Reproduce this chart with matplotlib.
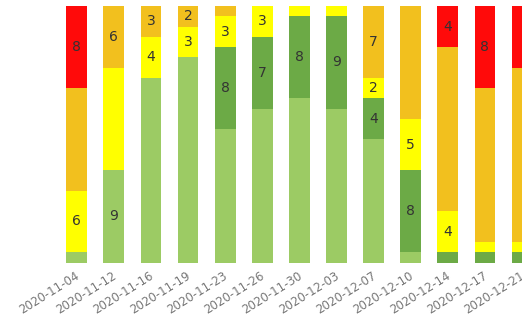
import numpy as np
import matplotlib.pyplot as plt
import matplotlib.transforms as mtransforms

dates = ['2020-11-04', '2020-11-12', '2020-11-16', '2020-11-19', '2020-11-23',
         '2020-11-26', '2020-11-30', '2020-12-03', '2020-12-07', '2020-12-10',
         '2020-12-14', '2020-12-17', '2020-12-21']

# counts per category, stacked bottom to top
light_green = [1, 9, 18, 20, 13, 15, 16, 15, 12, 1, 0, 0, 0]
dark_green = [0, 0, 0, 0, 8, 7, 8, 9, 4, 8, 1, 1, 1]
yellow = [6, 10, 4, 3, 3, 3, 1, 1, 2, 5, 4, 1, 1]
orange = [10, 6, 3, 2, 1, 0, 0, 0, 7, 11, 16, 15, 17]
red = [8, 0, 0, 0, 0, 0, 0, 0, 0, 0, 4, 8, 6]

series = [light_green, dark_green, yellow, orange, red]
colors = ['#9CCB64', '#6CAA46', '#FFFF00', '#F2C01E', '#FF0A0A']

fig = plt.figure(figsize=(5.22, 3.16), dpi=100)
ax = fig.add_axes([0, 1 - 262.5 / 316, 1, (262.5 - 6) / 316])

xmax = (522 - 77.5) / 37.5
x = np.arange(len(dates))
bottom = np.zeros(len(dates))
for vals, col in zip(series, colors):
    vals = np.array(vals)
    ax.bar(x, vals, 0.56, bottom=bottom, color=col)
    for xi, v, b in zip(x, vals, bottom):
        # the last bar is cut by the image edge, its label is off-screen
        if 2 <= v <= 9 and xi < xmax:
            ax.text(xi, b + v / 2, str(v), ha='center', va='center',
                    fontsize=10, color='#333333')
    bottom += vals

ax.set_ylim(0, 25)
ax.set_xlim(-77.5 / 37.5, xmax)
ax.set_yticks([])
ax.set_xticks(x)
ax.set_xticklabels(dates, rotation=32, ha='right', rotation_mode='anchor',
                   fontsize=8.5, color='#777777')
ax.tick_params(axis='x', length=0, pad=5)
shift = mtransforms.ScaledTranslation(-2 / 100, 0, fig.dpi_scale_trans)
for lbl in ax.get_xticklabels():
    lbl.set_transform(lbl.get_transform() + shift)
for s in ax.spines.values():
    s.set_visible(False)

fig.savefig('out.png', dpi=100)
